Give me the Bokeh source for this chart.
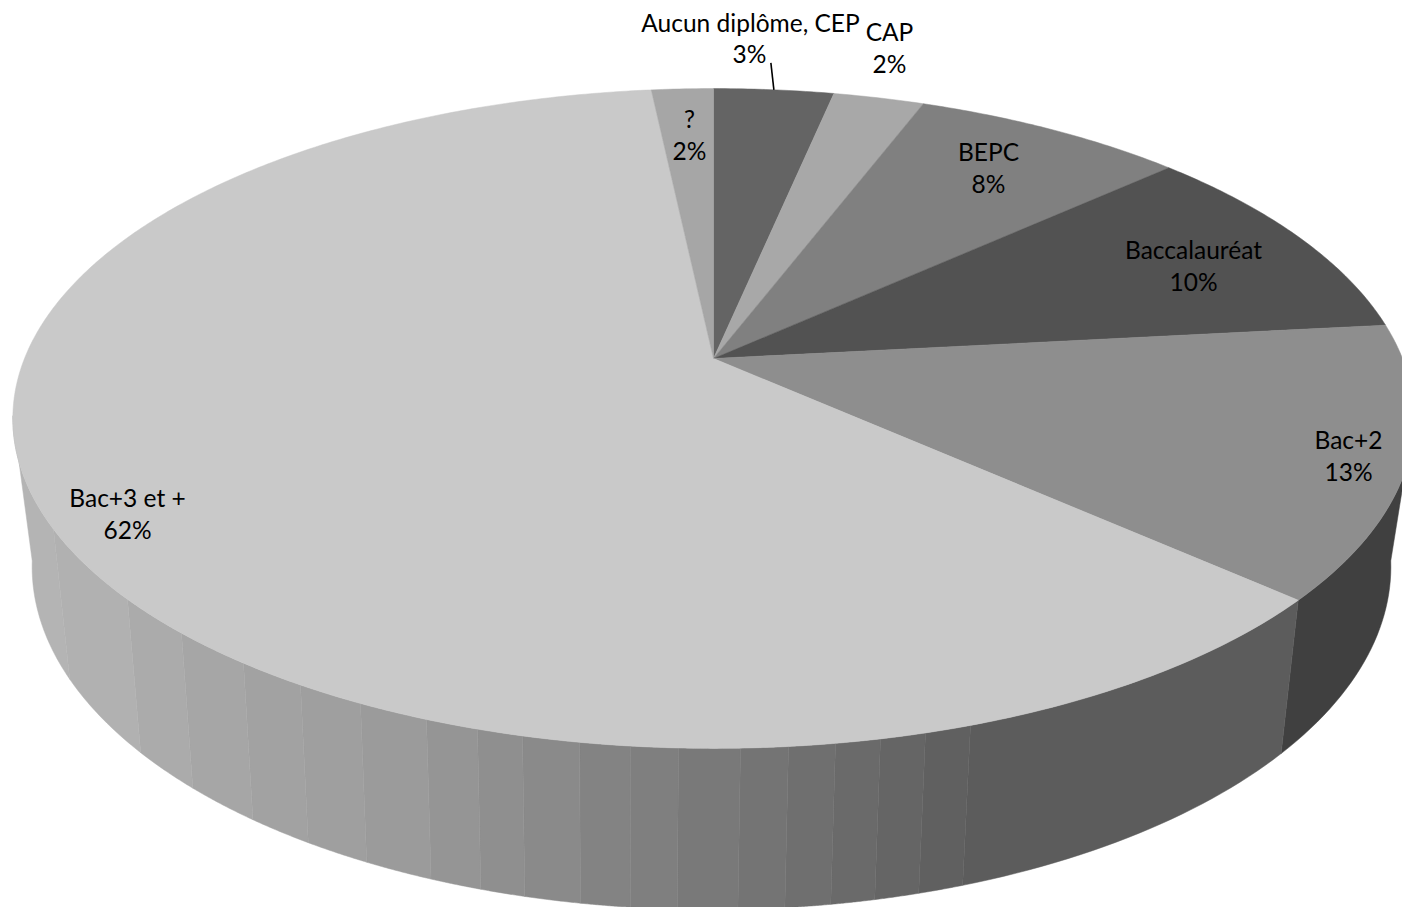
import numpy as np
from bokeh.plotting import figure
from bokeh.models import Range1d, ColumnDataSource
from bokeh.core.properties import value
from bokeh.embed import file_html
from bokeh.resources import INLINE

# --- data ---
categories = ["Aucun diplôme, CEP", "CAP", "BEPC", "Baccalauréat", "Bac+2", "Bac+3 et +", "?"]
shares = [3.3, 2.5, 7.5, 10.0, 13.3, 61.7, 1.7]
pct_labels = ["3%", "2%", "8%", "10%", "13%", "62%", "2%"]
slice_colors = ["#646464", "#a8a8a8", "#808080", "#525252", "#8e8e8e", "#c9c9c9", "#a6a6a6"]
name_x = [750, 889, 988, 1193, 1348, 127, 689]
name_y = [22, 31, 151, 249, 439, 497, 118]
pct_x = [749, 889, 988, 1193, 1348, 127, 689]
pct_y = [53, 63, 183, 281, 471, 529, 150]

# wall facets of the cylinder side, right to left: rim x of each facet edge, and facet greys
facet_rim_x = [970, 925, 880, 835, 788, 740, 678, 630, 579, 522, 477, 426, 360, 300, 243, 181, 127, 53]
facet_colors = ["#404040", "#5c5c5c", "#606060", "#656565", "#6a6a6a", "#6f6f6f", "#747474", "#797979",
                "#7f7f7f", "#838383", "#8a8a8a", "#8f8f8f", "#959595", "#9b9b9b", "#9f9f9f", "#a2a2a2",
                "#a6a6a6", "#ababab", "#b1b1b1", "#b4b4b4"]

# --- perspective projection of the disc, angle clockwise from 12 o'clock ---
TOP = dict(cx=713.0, ay=358.0, rx=689.0, ry=319.0, k=0.1818)
BOT = dict(cx=711.0, ay=501.0, rx=667.0, ry=330.6, k=0.19)


def proj(theta_deg, plane):
    t = np.radians(np.asarray(theta_deg, dtype=float))
    w = 1 + plane["k"] * np.cos(t)
    return plane["cx"] + plane["rx"] * np.sin(t) / w, plane["ay"] - plane["ry"] * np.cos(t) / w


W, H = 1402, 907
p = figure(width=W, height=H, x_range=Range1d(0, W), y_range=Range1d(H, 0),
           output_backend="svg", toolbar_location=None, min_border=0,
           outline_line_color=None, background_fill_color="white", border_fill_color="white")
p.axis.visible = False
p.grid.visible = False

edges_deg = np.concatenate([[0], np.cumsum(shares)]) / sum(shares) * 360

# walls
dense = np.linspace(100, 260, 2000)
rim_x, _ = proj(dense, TOP)
facet_theta = np.interp(facet_rim_x, rim_x[::-1], dense[::-1])
wall_edges = [100.0, edges_deg[5]] + list(facet_theta) + [260.0]
wx, wy = [], []
for a, b in zip(wall_edges[:-1], wall_edges[1:]):
    th = np.linspace(a, b, 30)
    tx, ty = proj(th, TOP)
    bx, by = proj(th[::-1], BOT)
    wx.append(np.concatenate([tx, bx]).tolist())
    wy.append(np.concatenate([ty, by]).tolist())
p.patches(xs="x", ys="y", fill_color="c", line_color="c", line_width=0.5,
          source=ColumnDataSource(dict(x=wx, y=wy, c=facet_colors)))

# top face
sx, sy = [], []
for a, b in zip(edges_deg[:-1], edges_deg[1:]):
    th = np.linspace(a, b, max(int(b - a) * 2, 8))
    x, y = proj(th, TOP)
    sx.append([TOP["cx"]] + x.tolist())
    sy.append([TOP["ay"]] + y.tolist())
p.patches(xs="x", ys="y", fill_color="c", line_color="c", line_width=0.5,
          source=ColumnDataSource(dict(x=sx, y=sy, c=slice_colors)))

# leader of the first label
lx, ly = proj((edges_deg[0] + edges_deg[1]) / 2, TOP)
p.line([float(lx) - 3, float(lx)], [float(ly) - 27, float(ly)], line_color="black", line_width=1.6)

FONT = value("Lato")
for xs_, ys_, txt in ((name_x, name_y, categories), (pct_x, pct_y, pct_labels)):
    p.text(x=xs_, y=ys_, text=txt, text_font=FONT, text_font_size="24.5px", text_color="black",
           text_align="center", text_baseline="middle")

open("out.html", "w").write(file_html(p, INLINE))
